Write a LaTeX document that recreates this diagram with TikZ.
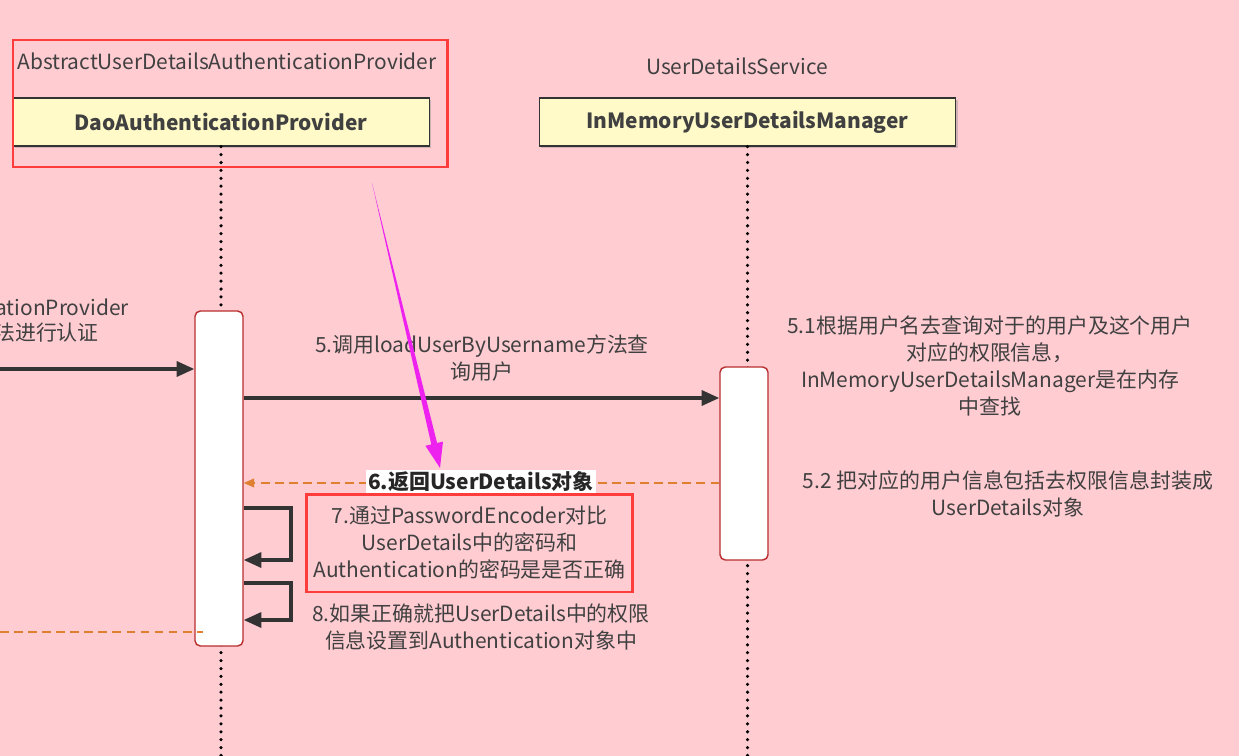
\documentclass[tikz,border=0pt]{standalone}
\usepackage{fontspec}
\setmainfont{Noto Sans CJK SC}
\usetikzlibrary{arrows.meta,shadows}
\definecolor{bgpink}{RGB}{255,204,210}
\definecolor{headyellow}{RGB}{255,250,200}
\definecolor{markred}{RGB}{255,60,60}
\definecolor{actred}{RGB}{185,45,45}
\definecolor{txtgray}{RGB}{64,64,64}
\definecolor{retorange}{RGB}{222,128,48}
\definecolor{pointmagenta}{RGB}{238,34,238}

\begin{document}
\begin{tikzpicture}[x=0.02cm, y=-0.02cm,
    every node/.style={text=txtgray, font=\fontsize{11.9}{15.4}\selectfont},
    header/.style={draw=black!80, line width=0.8pt, fill=headyellow,
      minimum width=8.33cm, minimum height=0.96cm, font=\fontsize{11.9}{15.4}\selectfont\bfseries,
      drop shadow={shadow xshift=1.2pt, shadow yshift=-1.2pt, opacity=0.35}},
    lifeline/.style={line width=2pt, dash pattern=on 0pt off 4.5pt, line cap=round},
    activation/.style={draw=actred, line width=0.8pt, fill=white, rounded corners=3pt,
      minimum width=0.96cm},
    msg/.style={draw=black!80, line width=1.9pt, -{Triangle[length=10pt,width=8.5pt]}},
    ret/.style={draw=retorange, line width=0.9pt, dash pattern=on 5pt off 3pt,
      -{Triangle[length=6pt,width=5pt]}},
    redmark/.style={draw=markred, line width=1.7pt}
  ]
  % background and frame
  \fill[bgpink] (0,0) rectangle (1239,756);
  \clip (0,0) rectangle (1239,756);

  % participants
  \node (absname) at (227,61) {AbstractUserDetailsAuthenticationProvider};
  \node (ifname) at (737,66) {UserDetailsService};
  \node[header] (dao) at (221,122) {DaoAuthenticationProvider};
  \node[header] (mem) at (747.5,122) {InMemoryUserDetailsManager};

  % lifelines
  \draw[lifeline] (dao.south) -- (dao.south |- 0,756);
  \draw[lifeline] (mem.south) -- (mem.south |- 0,756);

  % activations
  \node[activation, minimum height=6.7cm] (act1) at (219,478.5) {};
  \node[activation, minimum height=3.86cm] (act2) at (744,463.5) {};

  % incoming call from the left
  \coordinate (lin) at (0,369);
  \coordinate (lout) at (0,632);
  \coordinate (rin) at (203,632);
  \node[anchor=east] (inlbl1) at (135,307) {ationProvider};
  \node[anchor=east] (inlbl2) at (105,333) {法进行认证};
  \draw[msg] (lin) -- (act1.west |- lin);
  \draw[ret, -] (lout) -- (rin);

  % 5. load user
  \draw[msg] (act1.east |- 0,398) -- (act2.west |- 0,398);
  \node[align=center] (lbl5) at (482,358) {5.调用loadUserByUsername方法查\\询用户};
  \node[align=center] (note51) at (990,366)
    {5.1根据用户名去查询对于的用户及这个用户\\对应的权限信息，\\InMemoryUserDetailsManager是在内存\\中查找};

  % 6. return
  \draw[ret] (act2.west |- 0,483) -- (act1.east |- 0,483);
  \node[fill=white, inner sep=1pt, font=\fontsize{11.9}{15.4}\selectfont\bfseries, text=black!85]
    (lbl6) at (481,482) {6.返回UserDetails对象};
  \node[align=center] (note52) at (1008,494)
    {5.2 把对应的用户信息包括去权限信息封装成\\UserDetails对象};

  % 7. and 8. self calls
  \draw[msg] (act1.east |- 0,508) -- (291,508) -- (291,560) -- (act1.east |- 0,560);
  \draw[msg] (act1.east |- 0,583) -- (291,583) -- (291,620) -- (act1.east |- 0,620);
  \node[redmark, align=center, minimum width=6.54cm, minimum height=1.96cm] (cmp) at (469.5,543)
    {7.通过PasswordEncoder对比\\UserDetails中的密码和\\Authentication的密码是是否正确};
  \node[align=center] (lbl8) at (481,627)
    {8.如果正确就把UserDetails中的权限\\信息设置到Authentication对象中};

  % highlight
  \draw[redmark] (13,40) rectangle (447,167);
  \coordinate (ptail) at (372,183);
  \coordinate (phead) at (440,468);
  \fill[pointmagenta] (ptail) -- (437.1,443.0) -- (443.0,441.6) -- (phead)
    -- (425.4,445.8) -- (431.3,444.4) -- cycle;
\end{tikzpicture}
\end{document}
